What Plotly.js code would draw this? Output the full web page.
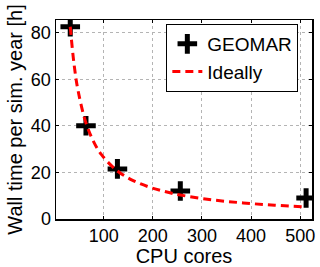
<!DOCTYPE html>
<html>
<head>
<meta charset="utf-8">
<script src="https://cdn.plot.ly/plotly-3.0.1.min.js"></script>
<style>html,body{margin:0;padding:0;background:#fff;}#chart{width:320px;height:267px;}</style>
</head>
<body>
<div id="chart"></div>
<script>
var cores = [32, 64, 128, 256, 512];
var geomar = [82.5, 40, 21.5, 12, 9];
var idealCores = [32, 40, 48, 64, 80, 96, 128, 160, 192, 224, 256, 320, 384, 448, 512];
var idealTime = [82.5, 66, 55, 41.2, 33, 27.5, 20.6, 16.5, 13.75, 11.8, 10.3, 8.25, 6.9, 5.9, 5.2];
var xTicks = [100, 200, 300, 400, 500];
var yTicks = [0, 20, 40, 60, 80];

var font = 'Liberation Sans, Arial, Helvetica, sans-serif';

var traces = [
  {
    x: cores, y: geomar, name: 'GEOMAR', type: 'scatter', mode: 'markers',
    marker: {symbol: 'cross-thin', size: 14, color: '#000', line: {color: '#000', width: 5}}
  },
  {
    x: idealCores, y: idealTime, name: 'Ideally', type: 'scatter', mode: 'lines',
    line: {color: '#ff0000', width: 3, dash: '8px,5px', shape: 'spline'}
  }
];

var axisCommon = {
  showline: true, linecolor: '#000', linewidth: 1.5, mirror: 'ticks',
  ticks: 'inside', ticklen: 3, tickcolor: '#000', tickwidth: 1,
  showgrid: true, gridcolor: '#b4b4b4', gridwidth: 1, griddash: 'dot',
  zeroline: false,
  tickfont: {family: font, size: 18, color: '#000'}
};

var layout = {
  width: 320, height: 267,
  margin: {l: 56, r: 8, t: 20, b: 48},
  paper_bgcolor: '#fff', plot_bgcolor: '#fff',
  showlegend: true,
  legend: {
    x: 0.431, y: 0.98, xanchor: 'left', yanchor: 'top',
    bgcolor: '#fff', bordercolor: '#000', borderwidth: 1,
    font: {family: font, size: 19, color: '#000'}
  },
  xaxis: Object.assign({}, axisCommon, {
    range: [3, 524], tickvals: xTicks,
    title: {text: 'CPU cores', font: {family: font, size: 20, color: '#000'}, standoff: 2}
  }),
  yaxis: Object.assign({}, axisCommon, {
    range: [0, 85.4], tickvals: yTicks,
    title: {text: 'Wall time per sim. year [h]', font: {family: font, size: 20, color: '#000'}, standoff: 3}
  })
};

Plotly.newPlot('chart', traces, layout, {displayModeBar: false, staticPlot: true});
</script>
</body>
</html>
